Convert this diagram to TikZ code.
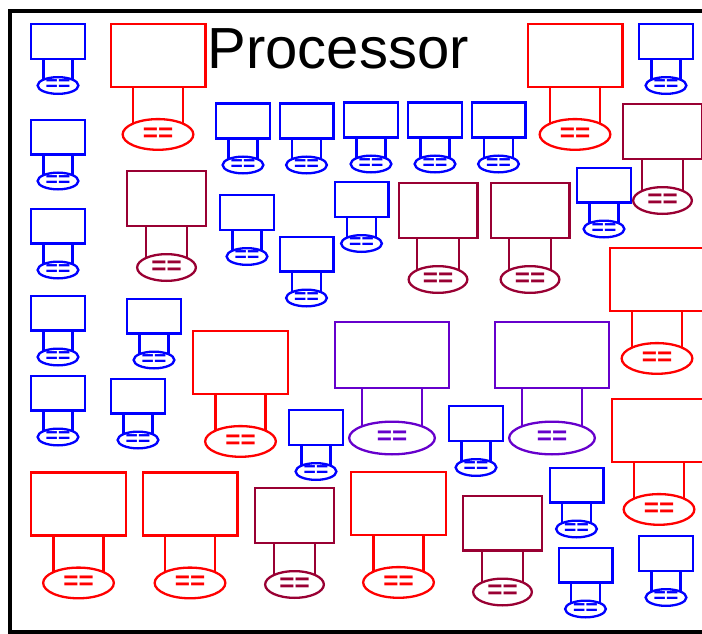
\documentclass[tikz,border=0pt]{standalone}
\usepackage{fontspec}
\setmainfont{Liberation Sans}
\usepackage{tikz}
\usetikzlibrary{positioning,shapes.geometric}
\definecolor{cpublue}{RGB}{0,0,255}
\definecolor{cpured}{RGB}{255,0,0}
\definecolor{cpumaroon}{RGB}{153,0,51}
\definecolor{cpupurple}{RGB}{102,0,204}
\tikzset{
    bluecore/.style={
        draw=cpublue,
        line width=2.3pt,
        inner sep=0pt,
        outer sep=0pt,
        minimum width=53.7pt,
        minimum height=34.7pt
    },
    redcore/.style={
        draw=cpured,
        line width=2.3pt,
        inner sep=0pt,
        outer sep=0pt,
        minimum width=94.7pt,
        minimum height=63.2pt
    },
    maroncore/.style={
        draw=cpumaroon,
        line width=2.3pt,
        inner sep=0pt,
        outer sep=0pt,
        minimum width=78.7pt,
        minimum height=54.7pt
    },
    purplecore/.style={
        draw=cpupurple,
        line width=2.3pt,
        inner sep=0pt,
        outer sep=0pt,
        minimum width=113.7pt,
        minimum height=65.7pt
    },
    bluebus/.style={
        ellipse,
        draw=cpublue,
        text=cpublue,
        line width=2.3pt,
        inner sep=0pt,
        outer sep=0pt,
        minimum width=40.7pt,
        minimum height=16.7pt,
        font=\bfseries\fontsize{21}{21}\selectfont
    },
    redbus/.style={
        ellipse,
        draw=cpured,
        text=cpured,
        line width=2.3pt,
        inner sep=0pt,
        outer sep=0pt,
        minimum width=70.7pt,
        minimum height=30.7pt,
        font=\bfseries\fontsize{26}{26}\selectfont
    },
    maronbus/.style={
        ellipse,
        draw=cpumaroon,
        text=cpumaroon,
        line width=2.3pt,
        inner sep=0pt,
        outer sep=0pt,
        minimum width=58.7pt,
        minimum height=26.7pt,
        font=\bfseries\fontsize{26}{26}\selectfont
    },
    purplebus/.style={
        ellipse,
        draw=cpupurple,
        text=cpupurple,
        line width=2.3pt,
        inner sep=0pt,
        outer sep=0pt,
        minimum width=85.7pt,
        minimum height=32.7pt,
        font=\bfseries\fontsize{26}{26}\selectfont
    },
    bluewire/.style={draw=cpublue, line width=2.3pt},
    redwire/.style={draw=cpured, line width=2.3pt},
    maronwire/.style={draw=cpumaroon, line width=2.3pt},
    purplewire/.style={draw=cpupurple, line width=2.3pt},
    title/.style={
        anchor=base west,
        inner sep=0pt,
        font=\fontsize{58}{58}\selectfont
    },
    frame/.style={draw=black, line width=4pt}
}

\begin{document}
\begin{tikzpicture}[x=1pt, y=-1pt]

\path[use as bounding box, clip] (0,0) rectangle (702,634);

% ============================================================
% FRAME AND TITLE
% ============================================================

\draw[frame] (10,10.7) rectangle (730,632);

\node[title] (title) at (207.5,68.5) {Processor};

% ============================================================
% SMALL BLUE CORES
% ============================================================

% left column
\node[bluecore] (b1) at (58,41.5) {};
\node[bluebus, below=18.3pt of b1] (b1bus) {==};
\draw[bluewire] (b1bus.north west) -- (b1bus.north west |- b1.south)
                (b1bus.north east) -- (b1bus.north east |- b1.south);

\node[bluecore] (b2) at (58,137) {};
\node[bluebus, below=18.3pt of b2] (b2bus) {==};
\draw[bluewire] (b2bus.north west) -- (b2bus.north west |- b2.south)
                (b2bus.north east) -- (b2bus.north east |- b2.south);

\node[bluecore] (b3) at (58,226) {};
\node[bluebus, below=18.3pt of b3] (b3bus) {==};
\draw[bluewire] (b3bus.north west) -- (b3bus.north west |- b3.south)
                (b3bus.north east) -- (b3bus.north east |- b3.south);

\node[bluecore] (b4) at (58,313) {};
\node[bluebus, below=18.3pt of b4] (b4bus) {==};
\draw[bluewire] (b4bus.north west) -- (b4bus.north west |- b4.south)
                (b4bus.north east) -- (b4bus.north east |- b4.south);

\node[bluecore] (b5) at (58,393) {};
\node[bluebus, below=18.3pt of b5] (b5bus) {==};
\draw[bluewire] (b5bus.north west) -- (b5bus.north west |- b5.south)
                (b5bus.north east) -- (b5bus.north east |- b5.south);

\node[bluecore] (b6) at (154,316) {};
\node[bluebus, below=18.3pt of b6] (b6bus) {==};
\draw[bluewire] (b6bus.north west) -- (b6bus.north west |- b6.south)
                (b6bus.north east) -- (b6bus.north east |- b6.south);

\node[bluecore] (b7) at (138,396) {};
\node[bluebus, below=18.3pt of b7] (b7bus) {==};
\draw[bluewire] (b7bus.north west) -- (b7bus.north west |- b7.south)
                (b7bus.north east) -- (b7bus.north east |- b7.south);

% top row
\node[bluecore] (b8) at (243,121) {};
\node[bluebus, below=18.3pt of b8] (b8bus) {==};
\draw[bluewire] (b8bus.north west) -- (b8bus.north west |- b8.south)
                (b8bus.north east) -- (b8bus.north east |- b8.south);

\node[bluecore] (b9) at (306.5,121) {};
\node[bluebus, below=18.3pt of b9] (b9bus) {==};
\draw[bluewire] (b9bus.north west) -- (b9bus.north west |- b9.south)
                (b9bus.north east) -- (b9bus.north east |- b9.south);

\node[bluecore] (b10) at (371,120) {};
\node[bluebus, below=18.3pt of b10] (b10bus) {==};
\draw[bluewire] (b10bus.north west) -- (b10bus.north west |- b10.south)
                (b10bus.north east) -- (b10bus.north east |- b10.south);

\node[bluecore] (b11) at (435,120) {};
\node[bluebus, below=18.3pt of b11] (b11bus) {==};
\draw[bluewire] (b11bus.north west) -- (b11bus.north west |- b11.south)
                (b11bus.north east) -- (b11bus.north east |- b11.south);

\node[bluecore] (b12) at (498.5,120) {};
\node[bluebus, below=18.3pt of b12] (b12bus) {==};
\draw[bluewire] (b12bus.north west) -- (b12bus.north west |- b12.south)
                (b12bus.north east) -- (b12bus.north east |- b12.south);

% middle
\node[bluecore] (b13) at (247,212.5) {};
\node[bluebus, below=18.3pt of b13] (b13bus) {==};
\draw[bluewire] (b13bus.north west) -- (b13bus.north west |- b13.south)
                (b13bus.north east) -- (b13bus.north east |- b13.south);

\node[bluecore] (b14) at (306.5,254) {};
\node[bluebus, below=18.3pt of b14] (b14bus) {==};
\draw[bluewire] (b14bus.north west) -- (b14bus.north west |- b14.south)
                (b14bus.north east) -- (b14bus.north east |- b14.south);

\node[bluecore] (b15) at (361.5,199.5) {};
\node[bluebus, below=18.3pt of b15] (b15bus) {==};
\draw[bluewire] (b15bus.north west) -- (b15bus.north west |- b15.south)
                (b15bus.north east) -- (b15bus.north east |- b15.south);

% right side
\node[bluecore] (b16) at (666,41.5) {};
\node[bluebus, below=18.3pt of b16] (b16bus) {==};
\draw[bluewire] (b16bus.north west) -- (b16bus.north west |- b16.south)
                (b16bus.north east) -- (b16bus.north east |- b16.south);

\node[bluecore] (b17) at (604,185) {};
\node[bluebus, below=18.3pt of b17] (b17bus) {==};
\draw[bluewire] (b17bus.north west) -- (b17bus.north west |- b17.south)
                (b17bus.north east) -- (b17bus.north east |- b17.south);

% lower part
\node[bluecore] (b18) at (316,427.5) {};
\node[bluebus, below=18.3pt of b18] (b18bus) {==};
\draw[bluewire] (b18bus.north west) -- (b18bus.north west |- b18.south)
                (b18bus.north east) -- (b18bus.north east |- b18.south);

\node[bluecore] (b19) at (476,423.5) {};
\node[bluebus, below=18.3pt of b19] (b19bus) {==};
\draw[bluewire] (b19bus.north west) -- (b19bus.north west |- b19.south)
                (b19bus.north east) -- (b19bus.north east |- b19.south);

\node[bluecore] (b20) at (576.5,485) {};
\node[bluebus, below=18.3pt of b20] (b20bus) {==};
\draw[bluewire] (b20bus.north west) -- (b20bus.north west |- b20.south)
                (b20bus.north east) -- (b20bus.north east |- b20.south);

\node[bluecore] (b21) at (585.5,565) {};
\node[bluebus, below=18.3pt of b21] (b21bus) {==};
\draw[bluewire] (b21bus.north west) -- (b21bus.north west |- b21.south)
                (b21bus.north east) -- (b21bus.north east |- b21.south);

\node[bluecore] (b22) at (666,553.5) {};
\node[bluebus, below=18.3pt of b22] (b22bus) {==};
\draw[bluewire] (b22bus.north west) -- (b22bus.north west |- b22.south)
                (b22bus.north east) -- (b22bus.north east |- b22.south);

% ============================================================
% LARGE RED CORES
% ============================================================

\node[redcore] (r1) at (158,55.5) {};
\node[redbus, below=32pt of r1] (r1bus) {==};
\draw[redwire] (r1bus.north west) -- (r1bus.north west |- r1.south)
               (r1bus.north east) -- (r1bus.north east |- r1.south);

\node[redcore] (r2) at (575,55.5) {};
\node[redbus, below=32pt of r2] (r2bus) {==};
\draw[redwire] (r2bus.north west) -- (r2bus.north west |- r2.south)
               (r2bus.north east) -- (r2bus.north east |- r2.south);

\node[redcore] (r3) at (657,279.5) {};
\node[redbus, below=32pt of r3] (r3bus) {==};
\draw[redwire] (r3bus.north west) -- (r3bus.north west |- r3.south)
               (r3bus.north east) -- (r3bus.north east |- r3.south);

\node[redcore] (r4) at (240.5,362.5) {};
\node[redbus, below=32pt of r4] (r4bus) {==};
\draw[redwire] (r4bus.north west) -- (r4bus.north west |- r4.south)
               (r4bus.north east) -- (r4bus.north east |- r4.south);

\node[redcore] (r5) at (659,430.5) {};
\node[redbus, below=32pt of r5] (r5bus) {==};
\draw[redwire] (r5bus.north west) -- (r5bus.north west |- r5.south)
               (r5bus.north east) -- (r5bus.north east |- r5.south);

% bottom row
\node[redcore] (r6) at (78.5,504) {};
\node[redbus, below=32pt of r6] (r6bus) {==};
\draw[redwire] (r6bus.north west) -- (r6bus.north west |- r6.south)
               (r6bus.north east) -- (r6bus.north east |- r6.south);

\node[redcore] (r7) at (190,504) {};
\node[redbus, below=32pt of r7] (r7bus) {==};
\draw[redwire] (r7bus.north west) -- (r7bus.north west |- r7.south)
               (r7bus.north east) -- (r7bus.north east |- r7.south);

\node[redcore] (r8) at (398.5,503.5) {};
\node[redbus, below=32pt of r8] (r8bus) {==};
\draw[redwire] (r8bus.north west) -- (r8bus.north west |- r8.south)
               (r8bus.north east) -- (r8bus.north east |- r8.south);

% ============================================================
% MAROON CORES
% ============================================================

\node[maroncore] (m1) at (166.5,198.5) {};
\node[maronbus, below=28.3pt of m1] (m1bus) {==};
\draw[maronwire] (m1bus.north west) -- (m1bus.north west |- m1.south)
                 (m1bus.north east) -- (m1bus.north east |- m1.south);

\node[maroncore] (m2) at (662.5,131.5) {};
\node[maronbus, below=28.3pt of m2] (m2bus) {==};
\draw[maronwire] (m2bus.north west) -- (m2bus.north west |- m2.south)
                 (m2bus.north east) -- (m2bus.north east |- m2.south);

\node[maroncore] (m3) at (438,210.5) {};
\node[maronbus, below=28.3pt of m3] (m3bus) {==};
\draw[maronwire] (m3bus.north west) -- (m3bus.north west |- m3.south)
                 (m3bus.north east) -- (m3bus.north east |- m3.south);

\node[maroncore] (m4) at (530,210.5) {};
\node[maronbus, below=28.3pt of m4] (m4bus) {==};
\draw[maronwire] (m4bus.north west) -- (m4bus.north west |- m4.south)
                 (m4bus.north east) -- (m4bus.north east |- m4.south);

\node[maroncore] (m5) at (294.5,515.5) {};
\node[maronbus, below=28.3pt of m5] (m5bus) {==};
\draw[maronwire] (m5bus.north west) -- (m5bus.north west |- m5.south)
                 (m5bus.north east) -- (m5bus.north east |- m5.south);

\node[maroncore] (m6) at (502.5,523) {};
\node[maronbus, below=28.3pt of m6] (m6bus) {==};
\draw[maronwire] (m6bus.north west) -- (m6bus.north west |- m6.south)
                 (m6bus.north east) -- (m6bus.north east |- m6.south);

% ============================================================
% PURPLE CORES
% ============================================================

\node[purplecore] (p1) at (392,355) {};
\node[purplebus, below=33.8pt of p1] (p1bus) {==};
\draw[purplewire] (p1bus.north west) -- (p1bus.north west |- p1.south)
                  (p1bus.north east) -- (p1bus.north east |- p1.south);

\node[purplecore] (p2) at (552,355) {};
\node[purplebus, below=33.8pt of p2] (p2bus) {==};
\draw[purplewire] (p2bus.north west) -- (p2bus.north west |- p2.south)
                  (p2bus.north east) -- (p2bus.north east |- p2.south);

\end{tikzpicture}
\end{document}
